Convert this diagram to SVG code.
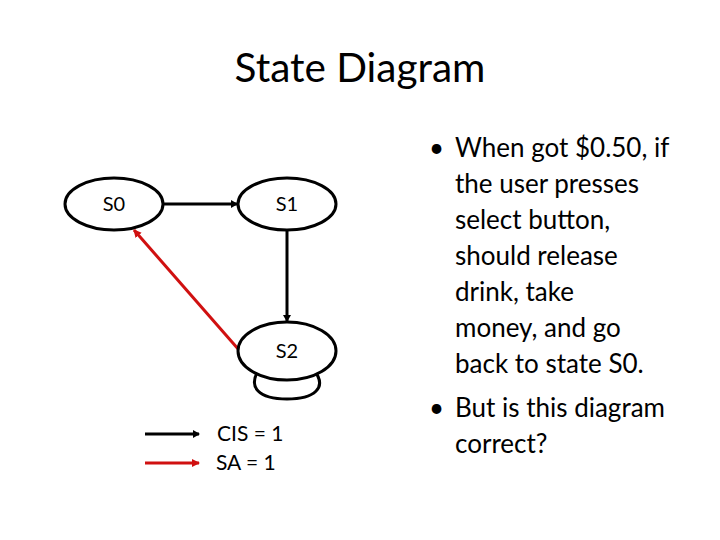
<svg xmlns="http://www.w3.org/2000/svg" width="720" height="540" viewBox="0 0 720 540">
<defs>
<style>
.node{fill:#fff;stroke:#000;stroke-width:3}
.lbl{font-family:Lato,"Liberation Sans",sans-serif;font-size:20px;fill:#000;text-anchor:middle}
.leg{font-family:Lato,"Liberation Sans",sans-serif;font-size:21px;fill:#000}
.edge{fill:none;stroke:#000;stroke-width:3}
.red{fill:none;stroke:#d01010;stroke-width:3}
.txt{font-family:Lato,"Liberation Sans",sans-serif;font-size:26px;fill:#000}
</style>
<marker id="ab" markerWidth="8" markerHeight="8" refX="6" refY="4" orient="auto" markerUnits="userSpaceOnUse">
<path d="M0,0 L7,4 L0,8 Z" fill="#000"/>
</marker>
<marker id="ar" markerWidth="10" markerHeight="10" refX="7" refY="5" orient="auto" markerUnits="userSpaceOnUse">
<path d="M0,1 L8,5 L0,9 Z" fill="#d01010"/>
</marker>
</defs>
<rect width="720" height="540" fill="#fff"/>
<text x="360" y="82" font-family="Lato,'Liberation Sans',sans-serif" font-size="40.5" text-anchor="middle">State Diagram</text>
<g id="connectors">
<line class="edge" x1="163" y1="204" x2="237" y2="204" marker-end="url(#ab)"/>
<line class="edge" x1="287" y1="230" x2="287" y2="321" marker-end="url(#ab)"/>
<path class="edge" d="M260,368 C246,388 260,399 287,399 C314,399 328,388 314,370"/>
<line class="red" x1="239" y1="350" x2="134" y2="230" marker-end="url(#ar)"/>
</g>
<g id="S0"><ellipse class="node" cx="114" cy="204" rx="49" ry="26"/><text class="lbl" x="114" y="211">S0</text></g>
<g id="S1"><ellipse class="node" cx="287" cy="204" rx="49" ry="26"/><text class="lbl" x="287" y="211">S1</text></g>
<g id="S2"><ellipse class="node" cx="287" cy="351" rx="49" ry="29"/><text class="lbl" x="287" y="358">S2</text></g>
<g id="legend">
<line class="edge" x1="145" y1="434" x2="199" y2="434" stroke-width="2.5" marker-end="url(#ab)"/>
<line class="red" x1="145" y1="463" x2="199" y2="463" stroke-width="2.5" marker-end="url(#ar)"/>
<text class="leg" x="217" y="441">CIS = 1</text>
<text class="leg" x="216" y="470">SA = 1</text>
</g>
<g id="bullets" class="txt">
<text x="429" y="157">•</text>
<text x="455" y="157">When got $0.50, if</text>
<text x="455" y="193">the user presses</text>
<text x="455" y="229">select button,</text>
<text x="455" y="265">should release</text>
<text x="455" y="301">drink, take</text>
<text x="455" y="337">money, and go</text>
<text x="455" y="373">back to state S0.</text>
<text x="429" y="417">•</text>
<text x="455" y="417">But is this diagram</text>
<text x="455" y="453">correct?</text>
</g>
</svg>
